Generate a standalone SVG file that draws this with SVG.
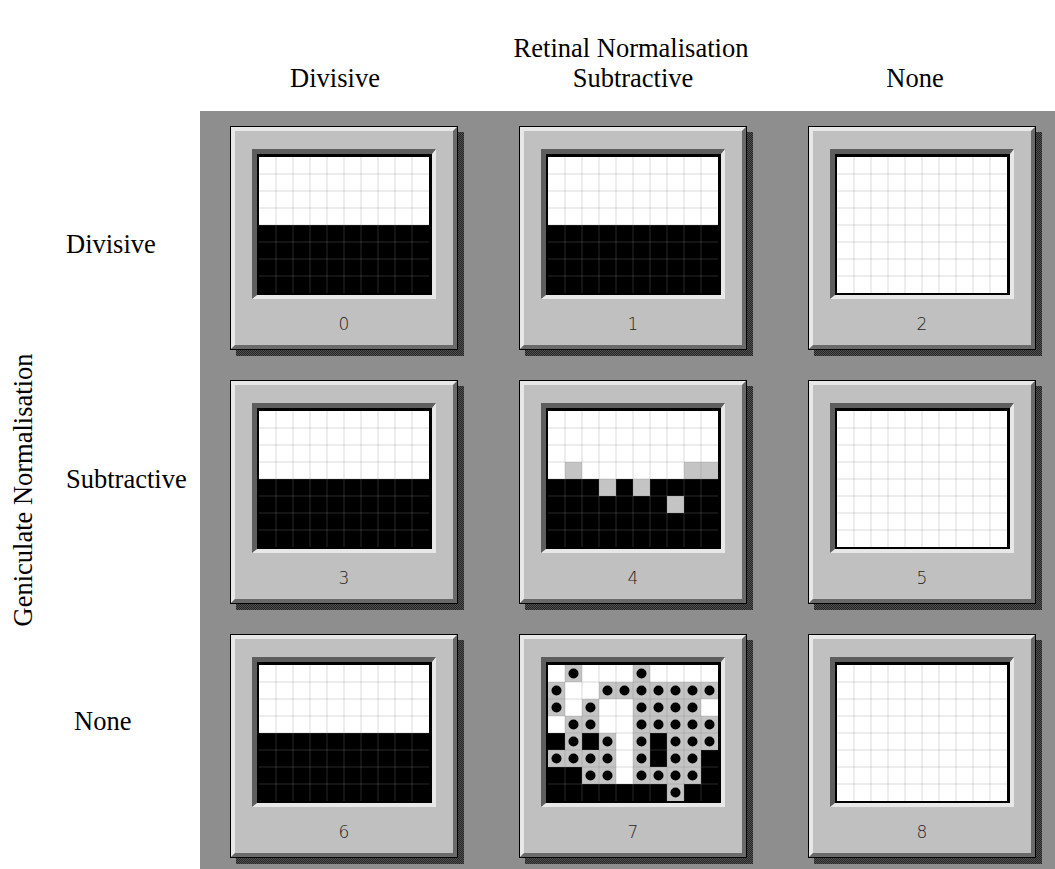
<svg xmlns="http://www.w3.org/2000/svg" xmlns:xlink="http://www.w3.org/1999/xlink" width="1055" height="869" viewBox="0 0 1055 869">
<style>
.lbl{font-family:"Liberation Serif","Times New Roman",serif;font-size:26.5px;fill:#000}
.num{font-family:"DejaVu Sans",sans-serif;font-size:17px;font-weight:300;fill:#1e1e1e;text-anchor:middle}
.w{fill:#fff}
.b{fill:#000}
.g{fill:#c4c4c4}
.d{fill:#000}
</style>
<defs>
<pattern id="dither" width="2" height="2" patternUnits="userSpaceOnUse">
<rect width="2" height="2" fill="#505050"/>
<rect width="1" height="1" fill="#262626"/>
<rect x="1" y="1" width="1" height="1" fill="#262626"/>
</pattern>
<g id="frame">
<rect x="6" y="6" width="228" height="224" fill="url(#dither)"/>
<rect x="0" y="0" width="228" height="224" fill="#000"/>
<rect x="1" y="1" width="226" height="222" fill="#c0c0c0"/>
<polygon points="1,1 227,1 223,5 5,5 5,219 1,223" fill="#e8e8e8"/>
<polygon points="227,1 227,223 1,223 5,219 223,219 223,5" fill="#6a6a6a"/>
<rect x="22" y="23" width="184" height="150" fill="#e8e8e8"/>
<polygon points="22,23 206,23 202,28 27,28 27,169 22,173" fill="#5e5e5e"/>
<rect x="27" y="28" width="175" height="141" fill="#000"/>
</g>
<path id="gridlines" d="M46 31V167M63 31V167M80 31V167M97 31V167M114 31V167M131 31V167M148 31V167M165 31V167M182 31V167M29 48H199M29 65H199M29 82H199M29 99H199M29 116H199M29 133H199M29 150H199" fill="none" stroke="#888" stroke-opacity="0.3" stroke-width="1"/>
<g id="half">
<rect x="29" y="31" width="170" height="68" class="w"/>
<rect x="29" y="99" width="170" height="68" class="b"/>
</g>
<rect id="full" x="29" y="31" width="170" height="136" class="w"/>
</defs>

<rect x="200" y="111" width="855" height="758" fill="#8e8e8e"/>

<g id="titles">
<text class="lbl" x="631" y="57" text-anchor="middle">Retinal Normalisation</text>
<text class="lbl" x="335" y="87" text-anchor="middle">Divisive</text>
<text class="lbl" x="633" y="87" text-anchor="middle">Subtractive</text>
<text class="lbl" x="915" y="87" text-anchor="middle">None</text>
<text class="lbl" x="66" y="253">Divisive</text>
<text class="lbl" x="66" y="488">Subtractive</text>
<text class="lbl" x="74" y="730">None</text>
<text class="lbl" transform="translate(32,490) rotate(-90)" text-anchor="middle">Geniculate Normalisation</text>
</g>

<g id="connectors"></g>

<g id="panel-0" transform="translate(230,126)">
<use xlink:href="#frame"/><use xlink:href="#half"/><use xlink:href="#gridlines"/>
<text class="num" x="114" y="204">0</text>
</g>
<g id="panel-1" transform="translate(519,126)">
<use xlink:href="#frame"/><use xlink:href="#half"/><use xlink:href="#gridlines"/>
<text class="num" x="114" y="204">1</text>
</g>
<g id="panel-2" transform="translate(808,126)">
<use xlink:href="#frame"/><use xlink:href="#full"/><use xlink:href="#gridlines"/>
<text class="num" x="114" y="204">2</text>
</g>
<g id="panel-3" transform="translate(230,380)">
<use xlink:href="#frame"/><use xlink:href="#half"/><use xlink:href="#gridlines"/>
<text class="num" x="114" y="204">3</text>
</g>
<g id="panel-4" transform="translate(519,380)">
<use xlink:href="#frame"/><use xlink:href="#half"/>
<rect class="g" x="46" y="82" width="17" height="17"/>
<rect class="g" x="165" y="82" width="34" height="17"/>
<rect class="g" x="80" y="99" width="17" height="17"/>
<rect class="g" x="114" y="99" width="17" height="17"/>
<rect class="g" x="148" y="116" width="17" height="17"/>
<use xlink:href="#gridlines"/>
<text class="num" x="114" y="204">4</text>
</g>
<g id="panel-5" transform="translate(808,380)">
<use xlink:href="#frame"/><use xlink:href="#full"/><use xlink:href="#gridlines"/>
<text class="num" x="114" y="204">5</text>
</g>
<g id="panel-6" transform="translate(230,634)">
<use xlink:href="#frame"/><use xlink:href="#half"/><use xlink:href="#gridlines"/>
<text class="num" x="114" y="204">6</text>
</g>
<g id="panel-7" transform="translate(519,634)">
<use xlink:href="#frame"/><use xlink:href="#full"/>
<rect class="g" x="46" y="31" width="17" height="17"/>
<rect class="g" x="114" y="31" width="17" height="17"/>
<rect class="g" x="29" y="48" width="17" height="17"/>
<rect class="g" x="80" y="48" width="119" height="17"/>
<rect class="g" x="29" y="65" width="17" height="17"/>
<rect class="g" x="63" y="65" width="17" height="17"/>
<rect class="g" x="114" y="65" width="68" height="17"/>
<rect class="g" x="46" y="82" width="34" height="17"/>
<rect class="g" x="114" y="82" width="85" height="17"/>
<rect class="g" x="46" y="99" width="17" height="17"/>
<rect class="g" x="80" y="99" width="17" height="17"/>
<rect class="g" x="114" y="99" width="17" height="17"/>
<rect class="g" x="148" y="99" width="51" height="17"/>
<rect class="g" x="29" y="116" width="68" height="17"/>
<rect class="g" x="114" y="116" width="17" height="17"/>
<rect class="g" x="148" y="116" width="34" height="17"/>
<rect class="g" x="63" y="133" width="34" height="17"/>
<rect class="g" x="114" y="133" width="68" height="17"/>
<rect class="g" x="148" y="150" width="17" height="17"/>
<rect class="b" x="29" y="99" width="17" height="17"/>
<rect class="b" x="63" y="99" width="17" height="17"/>
<rect class="b" x="131" y="99" width="17" height="34"/>
<rect class="b" x="182" y="116" width="17" height="34"/>
<rect class="b" x="29" y="133" width="34" height="17"/>
<rect class="b" x="29" y="150" width="119" height="17"/>
<rect class="b" x="165" y="150" width="34" height="17"/>
<use xlink:href="#gridlines"/>
<g class="d">
<circle cx="54.5" cy="39.5" r="5"/><circle cx="122.5" cy="39.5" r="5"/>
<circle cx="37.5" cy="56.5" r="5"/><circle cx="88.5" cy="56.5" r="5"/><circle cx="105.5" cy="56.5" r="5"/><circle cx="122.5" cy="56.5" r="5"/><circle cx="139.5" cy="56.5" r="5"/><circle cx="156.5" cy="56.5" r="5"/><circle cx="173.5" cy="56.5" r="5"/><circle cx="190.5" cy="56.5" r="5"/>
<circle cx="37.5" cy="73.5" r="5"/><circle cx="71.5" cy="73.5" r="5"/><circle cx="122.5" cy="73.5" r="5"/><circle cx="139.5" cy="73.5" r="5"/><circle cx="156.5" cy="73.5" r="5"/><circle cx="173.5" cy="73.5" r="5"/>
<circle cx="54.5" cy="90.5" r="5"/><circle cx="71.5" cy="90.5" r="5"/><circle cx="122.5" cy="90.5" r="5"/><circle cx="139.5" cy="90.5" r="5"/><circle cx="156.5" cy="90.5" r="5"/><circle cx="173.5" cy="90.5" r="5"/><circle cx="190.5" cy="90.5" r="5"/>
<circle cx="54.5" cy="107.5" r="5"/><circle cx="88.5" cy="107.5" r="5"/><circle cx="122.5" cy="107.5" r="5"/><circle cx="156.5" cy="107.5" r="5"/><circle cx="173.5" cy="107.5" r="5"/><circle cx="190.5" cy="107.5" r="5"/>
<circle cx="37.5" cy="124.5" r="5"/><circle cx="54.5" cy="124.5" r="5"/><circle cx="71.5" cy="124.5" r="5"/><circle cx="88.5" cy="124.5" r="5"/><circle cx="122.5" cy="124.5" r="5"/><circle cx="156.5" cy="124.5" r="5"/><circle cx="173.5" cy="124.5" r="5"/>
<circle cx="71.5" cy="141.5" r="5"/><circle cx="88.5" cy="141.5" r="5"/><circle cx="122.5" cy="141.5" r="5"/><circle cx="139.5" cy="141.5" r="5"/><circle cx="156.5" cy="141.5" r="5"/><circle cx="173.5" cy="141.5" r="5"/>
<circle cx="156.5" cy="158.5" r="5"/>
</g>
<text class="num" x="114" y="204">7</text>
</g>
<g id="panel-8" transform="translate(808,634)">
<use xlink:href="#frame"/><use xlink:href="#full"/><use xlink:href="#gridlines"/>
<text class="num" x="114" y="204">8</text>
</g>
</svg>
